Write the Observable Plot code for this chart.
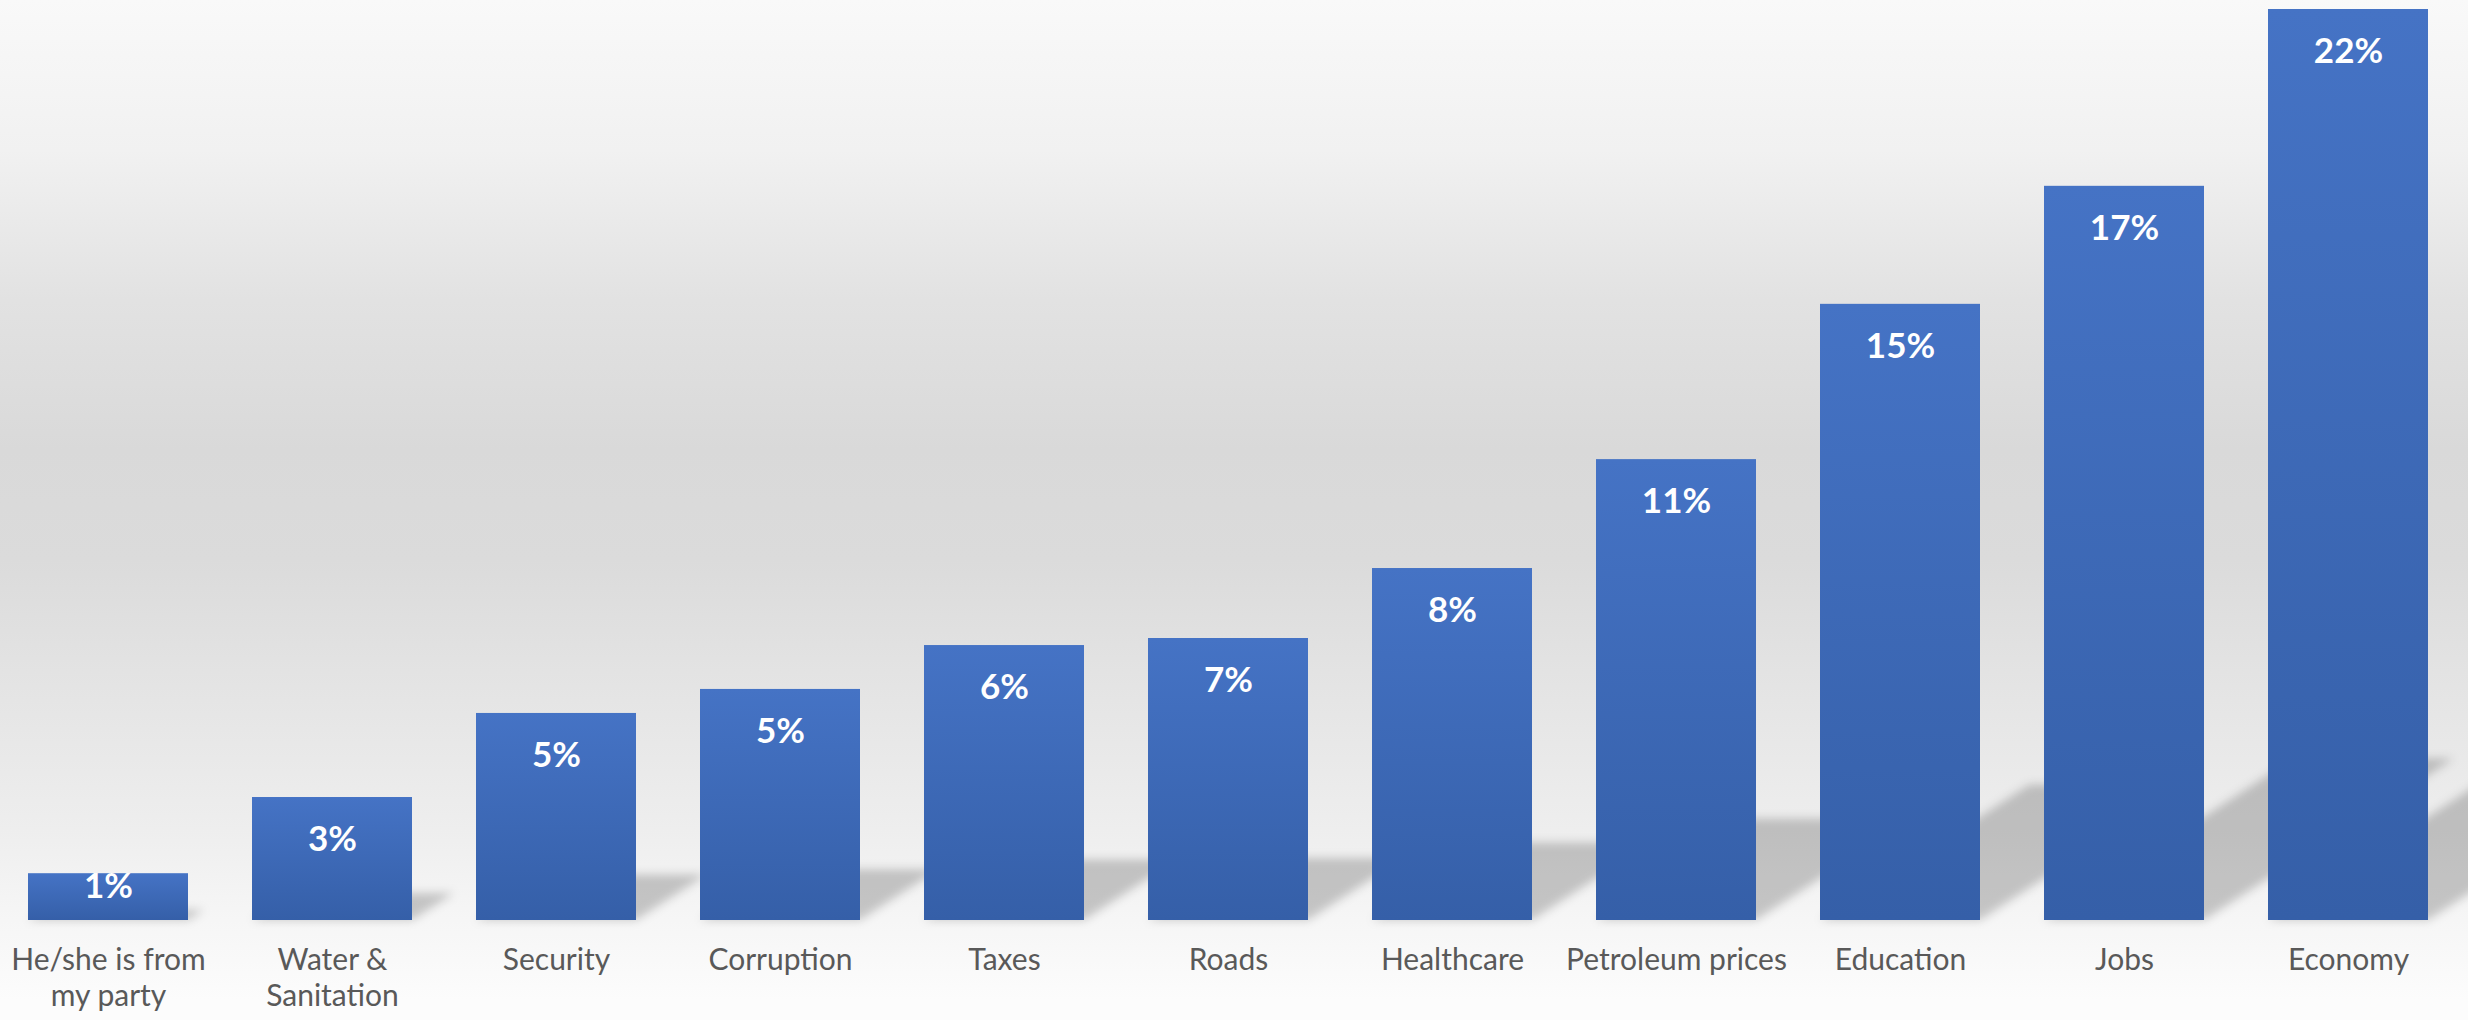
<!DOCTYPE html>
<html>
<head>
<meta charset="utf-8">
<script src="https://cdn.jsdelivr.net/npm/d3@7"></script>
<script src="https://cdn.jsdelivr.net/npm/@observablehq/plot@0.6"></script>
<style>
  html, body { margin: 0; padding: 0; background: #fdfdfd; }
  #chart svg { display: block; }
</style>
</head>
<body>
<div id="chart"></div>
<script>
const categories = ["He/she is from\nmy party", "Water &\nSanitation", "Security", "Corruption", "Taxes", "Roads", "Healthcare", "Petroleum prices", "Education", "Jobs", "Economy"];
const values = [1.13, 2.97, 5.0, 5.58, 6.64, 6.81, 8.5, 11.13, 14.88, 17.73, 22.0];
const valueLabels = ["1%", "3%", "5%", "5%", "6%", "7%", "8%", "11%", "15%", "17%", "22%"];

const data = categories.map((c, i) => ({cat: c, value: values[i], label: valueLabels[i]}));

const W = 2468, H = 1020;
const SKEW = 0.34, SQUASH = 0.22;

const plot = Plot.plot({
  width: W,
  height: H,
  marginLeft: 0,
  marginRight: 12,
  marginTop: 9,
  marginBottom: 100,
  style: {fontFamily: "Lato, 'Open Sans', sans-serif", background: "transparent", overflow: "hidden"},
  x: {type: "band", domain: categories, paddingInner: 0.2855, paddingOuter: 0.12, label: null},
  y: {domain: [0, 22], axis: null},
  marks: [
    // shadow (transformed afterwards)
    Plot.barY(data, {x: "cat", y: "value", fill: "#000", fillOpacity: 0.2}),
    // bars
    Plot.barY(data, {x: "cat", y: "value", fill: "url(#barGrad)"}),
    // value labels
    Plot.text(data.filter(d => d.value >= 2), {x: "cat", y: "value", text: "label", dy: 42, fill: "white", fontSize: 35, fontWeight: "bold"}),
    Plot.text(data.filter(d => d.value < 2), {x: "cat", y: "value", text: "label", dy: 13, fill: "white", fontSize: 35, fontWeight: "bold"}),
    Plot.axisX({tickSize: 0, tickPadding: 25, fontSize: 30, lineHeight: 1.17, color: "#595959", label: null})
  ]
});

const ns = "http://www.w3.org/2000/svg";
// background gradient
plot.style.background = "linear-gradient(to bottom, #f9f9f9 0px, #f1f1f1 150px, #e2e2e2 300px, #d9d9d9 450px, #dbdbdb 560px, #e5e5e5 700px, #eeeeee 830px, #f6f6f6 920px, #fcfcfc 1000px)";

// defs
const defs = document.createElementNS(ns, "defs");
defs.innerHTML = `
  <linearGradient id="barGrad" x1="0" y1="0" x2="0" y2="1">
    <stop offset="0" stop-color="#4573c5"/>
    <stop offset="1" stop-color="#355fa8"/>
  </linearGradient>
  <filter id="shBlur" x="-30%" y="-30%" width="160%" height="160%">
    <feGaussianBlur stdDeviation="5"/>
  </filter>`;
plot.insertBefore(defs, plot.firstChild);

// transform the shadow bars into a diagonal cast shadow
const bars = plot.querySelectorAll('g[aria-label="bar"]');
if (bars.length) {
  const sh = bars[0];
  const b = H - 100;
  const inner = document.createElementNS(ns, "g");
  inner.setAttribute("transform", `matrix(1,0,${-SKEW},${SQUASH},${SKEW * b},${(1 - SQUASH) * b})`);
  const outer = document.createElementNS(ns, "g");
  outer.setAttribute("filter", "url(#shBlur)");
  sh.parentNode.insertBefore(outer, sh);
  outer.appendChild(inner);
  inner.appendChild(sh);
}

document.getElementById("chart").appendChild(plot);
</script>
</body>
</html>
